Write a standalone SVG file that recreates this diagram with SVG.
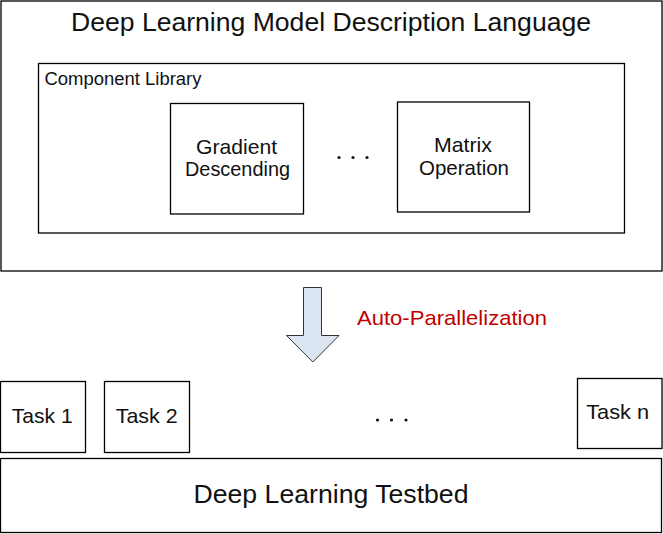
<svg xmlns="http://www.w3.org/2000/svg" width="663" height="534" viewBox="0 0 663 534">
<style>
.box{fill:#fff;stroke:#000;stroke-width:1.3}
.t{font-family:"Liberation Sans",Arial,sans-serif;fill:#111}
.dot{fill:#111}
</style>
<rect x="0" y="0" width="663" height="534" fill="#fff"/>
<g id="dlmdl">
<rect class="box" x="1" y="1" width="661" height="270"/>
<text class="t" x="331" y="31" font-size="25.5" text-anchor="middle" textLength="520" lengthAdjust="spacingAndGlyphs">Deep Learning Model Description Language</text>
</g>
<g id="component-library">
<rect class="box" x="38.5" y="63.5" width="586" height="169.5"/>
<text class="t" x="44.5" y="85" font-size="17.5" textLength="157" lengthAdjust="spacingAndGlyphs">Component Library</text>
</g>
<g id="gradient-descending">
<rect class="box" x="170.5" y="103.5" width="133" height="110.5"/>
<text class="t" x="236.5" y="154" font-size="21" text-anchor="middle" textLength="81" lengthAdjust="spacingAndGlyphs">Gradient</text>
<text class="t" x="237.5" y="176" font-size="21" text-anchor="middle" textLength="105" lengthAdjust="spacingAndGlyphs">Descending</text>
</g>
<g id="lib-dots">
<circle class="dot" cx="339" cy="157.5" r="1.6"/>
<circle class="dot" cx="353" cy="157.5" r="1.6"/>
<circle class="dot" cx="367" cy="157.5" r="1.6"/>
</g>
<g id="matrix-operation">
<rect class="box" x="397.5" y="102" width="132" height="110"/>
<text class="t" x="463" y="152" font-size="21" text-anchor="middle" textLength="58" lengthAdjust="spacingAndGlyphs">Matrix</text>
<text class="t" x="464" y="175" font-size="21" text-anchor="middle" textLength="90" lengthAdjust="spacingAndGlyphs">Operation</text>
</g>
<g id="connectors">
<path d="M303.5 287.5 H321.5 V335.5 H339 L312.8 362 L286.5 335.5 H303.5 Z" fill="#DCE6F2" stroke="#333" stroke-width="1"/>
<text x="357" y="325" font-size="21" font-family="'Liberation Sans',Arial,sans-serif" fill="#C00000" textLength="190" lengthAdjust="spacingAndGlyphs">Auto-Parallelization</text>
</g>
<g id="task1">
<rect class="box" x="0.5" y="381.5" width="85" height="71"/>
<text class="t" x="42.2" y="423" font-size="21" text-anchor="middle" textLength="61" lengthAdjust="spacingAndGlyphs">Task 1</text>
</g>
<g id="task2">
<rect class="box" x="104.5" y="381.5" width="85" height="71"/>
<text class="t" x="146.7" y="423" font-size="21" text-anchor="middle" textLength="62" lengthAdjust="spacingAndGlyphs">Task 2</text>
</g>
<g id="task-dots">
<circle class="dot" cx="377.5" cy="420" r="1.6"/>
<circle class="dot" cx="391.5" cy="420" r="1.6"/>
<circle class="dot" cx="406" cy="420" r="1.6"/>
</g>
<g id="taskn">
<rect class="box" x="577.5" y="378.5" width="84.5" height="70"/>
<text class="t" x="617.7" y="419.3" font-size="21" text-anchor="middle" textLength="63" lengthAdjust="spacingAndGlyphs">Task n</text>
</g>
<g id="testbed">
<rect class="box" x="0.5" y="458.5" width="661" height="74"/>
<text class="t" x="331" y="503.3" font-size="25" text-anchor="middle" textLength="275" lengthAdjust="spacingAndGlyphs">Deep Learning Testbed</text>
</g>
</svg>
